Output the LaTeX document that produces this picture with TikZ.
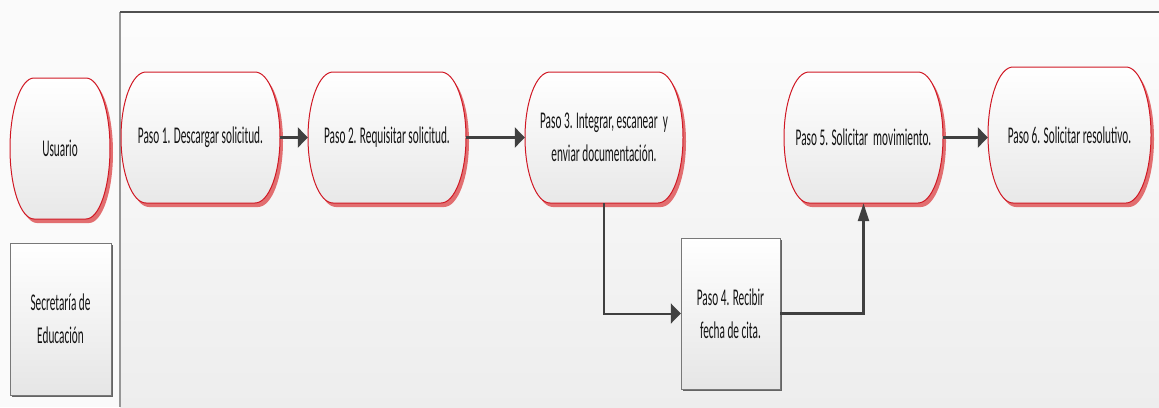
\documentclass[tikz,border=0pt]{standalone}
\usepackage{fontspec}
\setmainfont{Carlito}[FakeStretch=0.47]
\usetikzlibrary{arrows.meta}
\definecolor{termred}{RGB}{208,24,36}
\definecolor{termshad}{RGB}{226,110,112}
\definecolor{arrowc}{RGB}{64,64,64}
\definecolor{boxline}{RGB}{120,120,120}
\definecolor{boxshad}{RGB}{100,100,100}
\definecolor{panelline}{RGB}{80,80,80}
\definecolor{panelside}{RGB}{150,150,150}
\tikzset{
  txt/.style={align=center, text=black!92, font=\fontsize{24}{33}\selectfont, inner sep=0pt},
  termfill/.style={top color=white, bottom color=black!9, draw=termred, line width=1pt},
  boxfill/.style={top color=white, bottom color=black!10, draw=boxline, line width=1pt},
  harrow/.style={draw=arrowc, line width=2.6pt, -{Triangle[length=10pt,width=20pt]}},
  varrow/.style={draw=arrowc, line width=2.4pt, -{Triangle[length=18pt,width=11pt]}},
}
% #1 name, #2 x, #3 y, #4 w, #5 h, #6 rx, #7 text
\newcommand\termnode[7]{%
  \fill[termshad] ({#2+#6+3},{#3+4}) -- ({#2+#4-#6+3},{#3+4})
     arc[start angle=90,end angle=-90,x radius=#6pt,y radius={#5pt/2}]
     -- ({#2+#6+3},{#3+#5+4})
     arc[start angle=270,end angle=90,x radius=#6pt,y radius={#5pt/2}] -- cycle;
  \path[termfill] ({#2+#6},{#3}) -- ({#2+#4-#6},{#3})
     arc[start angle=90,end angle=-90,x radius=#6pt,y radius={#5pt/2}]
     -- ({#2+#6},{#3+#5})
     arc[start angle=270,end angle=90,x radius=#6pt,y radius={#5pt/2}] -- cycle;
  \node[txt, minimum width=#4pt, minimum height=#5pt] (#1) at ({#2+#4/2},{#3+#5/2}) {#7};
}
% #1 name, #2 x, #3 y, #4 w, #5 h, #6 text
\newcommand\boxnode[6]{%
  \fill[boxshad] ({#2+2},{#3+2}) rectangle ({#2+#4+2},{#3+#5+2});
  \path[boxfill] ({#2},{#3}) rectangle ({#2+#4},{#3+#5});
  \node[txt, minimum width=#4pt, minimum height=#5pt] (#1) at ({#2+#4/2},{#3+#5/2}) {#6};
}
\begin{document}
\begin{tikzpicture}[x=1pt,y=-1pt]
\useasboundingbox (0,0) rectangle (1159,407);
\fill[black!2] (0,0) rectangle (1159,407);
% lane panel
\shade[top color=black!1, bottom color=black!7] (120,12) rectangle (1159,407);
\draw[panelside, line width=1.4pt] (120,12) -- (120,407);
\draw[panelline, line width=1.8pt] (120,12) -- (1159,12);
% lane headers
\termnode{usr}{10}{78}{100}{141}{24}{Usuario}
\boxnode{sec}{10}{243}{101}{152}{Secretaría de\\Educación}
% steps
\termnode{p1}{121}{72}{159}{131}{25}{Paso 1. Descargar solicitud.}
\termnode{p2}{308}{72}{158}{131}{25}{Paso 2. Requisitar solicitud.}
\termnode{p3}{525}{72}{158}{131}{25}{Paso 3. Integrar, escanear~ y\\enviar documentación.}
\termnode{p5}{784}{72}{159}{131}{25}{Paso 5. Solicitar~ movimiento.}
\termnode{p6}{988}{67}{163}{136}{25}{Paso 6. Solicitar resolutivo.}
\boxnode{p4}{681}{238}{99}{151}{Paso 4. Recibir\\fecha de cita.}
% connectors
\draw[harrow] (p1.east) -- (p1.east -| p2.west);
\draw[harrow] (p2.east) -- (p2.east -| p3.west);
\draw[harrow] (p5.east) -- (p5.east -| p6.west);
\draw[harrow, line width=2pt] (p3.south) |- (p4.west);
\draw[varrow] (p4.east) -| (p5.south);
\end{tikzpicture}
\end{document}
